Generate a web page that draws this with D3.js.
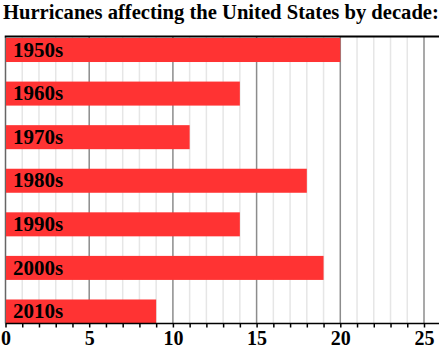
<!DOCTYPE html>
<html><head><meta charset="utf-8">
<script src="https://cdn.jsdelivr.net/npm/d3@7"></script>
<style>
html,body{margin:0;padding:0;background:#fff;}
svg{display:block;}
text{font-family:"Liberation Serif","Times New Roman",serif;font-weight:bold;fill:#000;}
</style></head>
<body>
<svg id="chart" width="439" height="353"></svg>
<script>
const title = "Hurricanes affecting the United States by decade:";
const decades = ["1950s","1960s","1970s","1980s","1990s","2000s","2010s"];
const hurricanes = [20, 14, 11, 18, 14, 19, 9];
const tickValues = [0, 5, 10, 15, 20, 25];

(function () {
const svg = d3.select("#chart");
const plotTop = 36.5, plotBottom = 323.5;
const x = d3.scaleLinear().domain([0, 26]).range([5.5, 5.5 + 26 * 16.74]);
const y = d3.scaleBand().domain(decades).range([38, plotBottom]).paddingInner(0.449).paddingOuter(0);

svg.append("text").attr("x", 3).attr("y", 18.5).attr("font-size", 20.6).text(title);

const minor = d3.range(1, 26).filter(d => d % 5 !== 0);
svg.append("g").selectAll("line").data(minor).join("line")
  .attr("x1", d => x(d)).attr("x2", d => x(d))
  .attr("y1", plotTop).attr("y2", plotBottom)
  .attr("stroke", "#e6e6e6").attr("stroke-width", 1.5);
svg.append("g").selectAll("line").data([5,10,15,20,25]).join("line")
  .attr("x1", d => x(d)).attr("x2", d => x(d))
  .attr("y1", plotTop).attr("y2", plotBottom)
  .attr("stroke", "#8c8c8c").attr("stroke-width", 1.5);

svg.append("line").attr("x1", x(0)).attr("x2", x(0)).attr("y1", plotTop).attr("y2", plotBottom)
  .attr("stroke", "#666").attr("stroke-width", 1.5);
svg.append("line").attr("x1", x(0) - 0.75).attr("x2", 439).attr("y1", plotTop).attr("y2", plotTop)
  .attr("stroke", "#000").attr("stroke-width", 2);

svg.append("g").selectAll("rect").data(hurricanes).join("rect")
  .attr("x", x(0) + 0.5)
  .attr("y", (d, i) => y(decades[i]))
  .attr("width", d => x(d) - x(0) - 0.5)
  .attr("height", y.bandwidth())
  .attr("fill", "#ff3333");

svg.append("g").selectAll("text").data(decades).join("text")
  .attr("x", 13)
  .attr("y", d => y(d) + y.bandwidth() / 2 + 6.7)
  .attr("font-size", 21)
  .text(d => d);

const axis = d3.axisBottom(x).tickValues(d3.range(0, 26)).tickSize(4)
  .tickFormat(d => tickValues.includes(d) ? d : "");
const ga = svg.append("g").attr("transform", `translate(0,${plotBottom})`).call(axis);
ga.select(".domain").attr("stroke", "#000").attr("stroke-width", 1.5)
  .attr("d", `M${x(0)},0H439`);
ga.selectAll(".tick line").attr("stroke", "#000").attr("stroke-width", 1.5);
ga.selectAll(".tick text").attr("font-size", 20).attr("font-family", "Liberation Serif, serif")
  .attr("font-weight", "bold").attr("fill", "#000").attr("dy", "0.71em").attr("y", 7);
})();
</script>
</body></html>
